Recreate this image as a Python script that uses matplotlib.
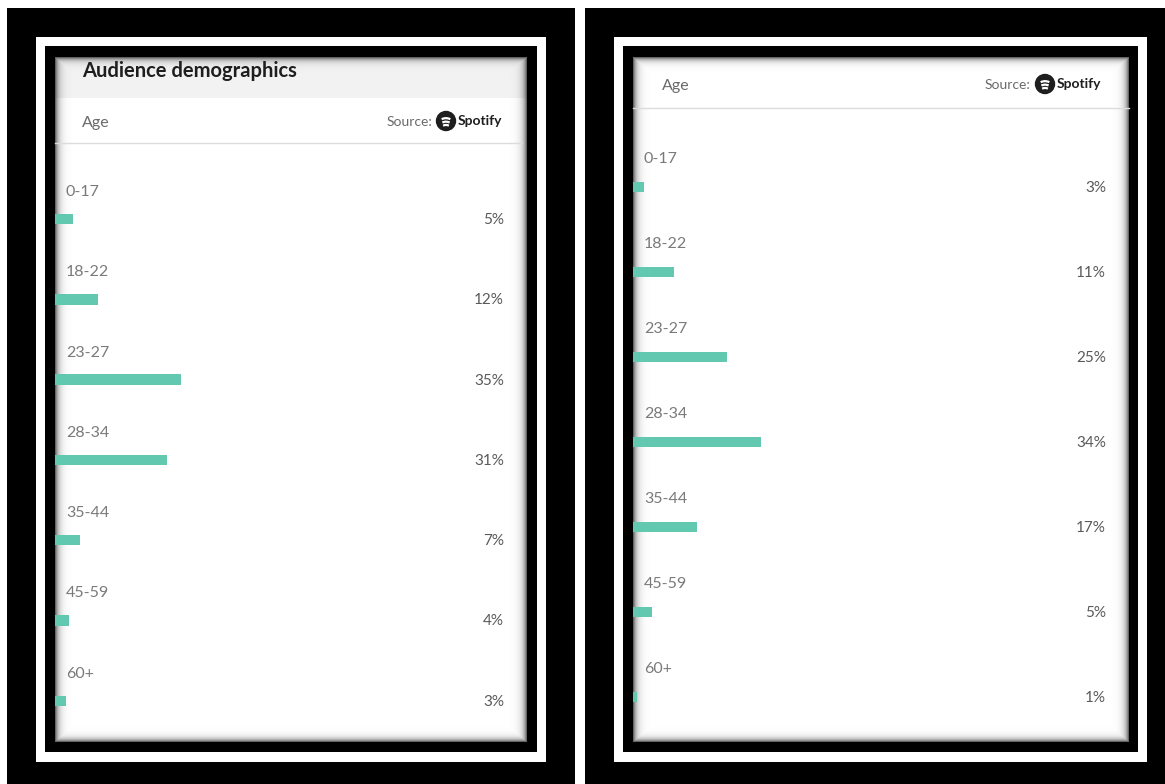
"""
Audience demographics (Spotify age split) - two phone screenshots side by side.
"""

import numpy as np
import matplotlib
matplotlib.use("Agg")
from matplotlib import pyplot as plt
from matplotlib.patches import Rectangle, Circle, Arc
import matplotlib.transforms as mtransforms

# Data
age_groups = ["0-17", "18-22", "23-27", "28-34", "35-44", "45-59", "60+"]
left_share = [5, 12, 35, 31, 7, 4, 3]
right_share = [3, 11, 25, 34, 17, 5, 1]

bar_color = "#62c9b0"
plt.rcParams["font.family"] = ["Lato", "DejaVu Sans"]

W, H = 1165, 784
fig = plt.figure(figsize=(W / 100, H / 100), dpi=100, facecolor="white")

# background axes in pixel units, used for the frames and header text
bg = fig.add_axes([0, 0, 1, 1])
bg.set_xlim(0, W)
bg.set_ylim(H, 0)
bg.axis("off")


def rect(x0, y0, x1, y1, color, z=1):
    bg.add_patch(Rectangle((x0, y0), x1 - x0, y1 - y0, color=color, lw=0, zorder=z))


def vignette(x0, y0, x1, y1):
    # soft grey shadow along the inner edges of the screenshot
    w, h = int(x1 - x0), int(y1 - y0)
    xx = np.arange(w)
    yy = np.arange(h)
    dx = np.minimum(xx, w - 1 - xx)[None, :]
    dy = np.minimum(yy, h - 1 - yy)[:, None]
    a = np.maximum(np.exp(-dx / 3.5), np.exp(-dy / 3.0)) * 0.6
    img = np.zeros((h, w, 4))
    img[..., 3] = a
    bg.imshow(img, extent=(x0, x1, y1, y0), zorder=3, interpolation="bilinear")


def spotify_logo(x, y, r=9.5):
    bg.add_patch(Circle((x, y), r, color="#1e1e1e", zorder=4))
    for dy, s in [(-3.4, 1.2), (0.2, 1.0), (3.6, 0.8)]:
        bg.add_patch(Arc((x, y + dy + r * 0.8 * s), 2 * r * 0.8 * s, 2 * r * 0.75 * s,
                         theta1=240, theta2=300, color="white", lw=1.6, zorder=5))


def frame(x0, x1, content):
    cx0, cy0, cx1, cy1 = content
    rect(x0, 8, x1, H, "black")
    rect(x0 + 29, 37, x1 - 29, 762, "white")
    rect(x0 + 38, 46, x1 - 38, 752, "black")
    rect(cx0, cy0, cx1, cy1, "white", z=2)


def panel(content, shares, first_y, step, px_per_pct, label_dy, pct_right):
    cx0, cy0, cx1, cy1 = content
    ax = fig.add_axes([cx0 / W, 1 - cy1 / H, (cx1 - cx0) / W, (cy1 - cy0) / H])
    ax.patch.set_alpha(0)
    ax.set_zorder(2)
    ax.axis("off")
    ax.set_xlim(0, (cx1 - cx0) / px_per_pct)
    ax.set_ylim((cy1 - first_y) / step, (cy0 - first_y) / step)
    rows = np.arange(len(age_groups))
    ax.barh(rows, shares, height=10.5 / step, color=bar_color, lw=0)
    trans = mtransforms.blended_transform_factory(ax.transAxes, ax.transData)
    for i, (lab, v) in enumerate(zip(age_groups, shares)):
        ax.text(11 / (cx1 - cx0), i - label_dy / step, lab, transform=trans,
                ha="left", va="center", fontsize=11.5, color="#7a7a7a")
        ax.text((pct_right - cx0) / (cx1 - cx0), i + 1 / step, f"{v}%", transform=trans,
                ha="right", va="center", fontsize=11, color="#5a5a5a")
    return ax


# left screenshot
left_content = (55, 57, 527, 742)
frame(7, 575, left_content)
rect(55, 57, 527, 98, "#f2f2f2", z=2)
bg.text(82, 71, "Audience demographics", fontsize=14.5, fontweight="bold",
        color="#1e1e1e", va="center", ha="left", zorder=4)
bg.text(82, 123, "Age", fontsize=11.5, color="#6a6a6a", va="center", zorder=4)
bg.text(432, 122, "Source:", fontsize=10, color="#6a6a6a", va="center", ha="right", zorder=4)
spotify_logo(446, 121)
bg.text(458, 121, "Spotify", fontsize=10, fontweight="bold", color="#1e1e1e",
        va="center", zorder=4)
bg.plot([55, 522], [143, 143], color="#dcdcdc", lw=1, zorder=4)
panel(left_content, left_share, 219, 80.3, 3.6, 27, 504)
vignette(*left_content)

# right screenshot
right_content = (633, 57, 1129, 742)
frame(585, 1176, right_content)
bg.text(662, 86, "Age", fontsize=11.5, color="#6a6a6a", va="center", zorder=4)
bg.text(1030, 85, "Source:", fontsize=10, color="#6a6a6a", va="center", ha="right", zorder=4)
spotify_logo(1045, 84)
bg.text(1057, 84, "Spotify", fontsize=10, fontweight="bold", color="#1e1e1e",
        va="center", zorder=4)
bg.plot([633, 1129], [108, 108], color="#dcdcdc", lw=1, zorder=4)
panel(right_content, right_share, 187, 85, 3.75, 28, 1106)
vignette(*right_content)

fig.savefig("out.png", dpi=100, facecolor="white")
